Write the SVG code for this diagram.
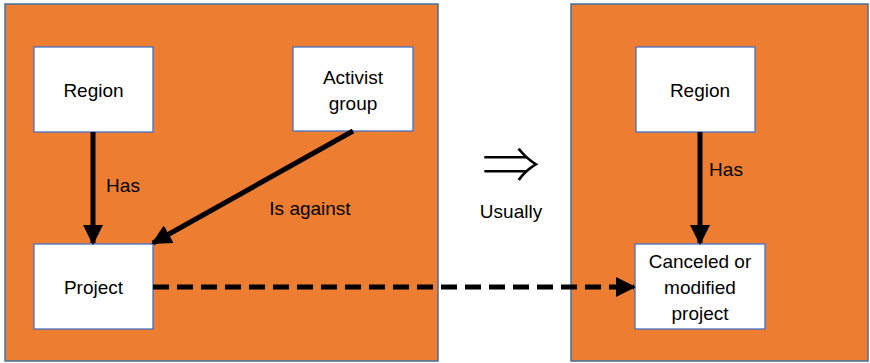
<svg xmlns="http://www.w3.org/2000/svg" width="870" height="363" viewBox="0 0 870 363">
<style>
.panel{fill:#ED7D31;stroke:#41719C;stroke-width:1.5}
.box{fill:#FFFFFF;stroke:#4472C4;stroke-width:1.3}
.t{font-family:"Liberation Sans",Arial,sans-serif;font-size:19px;fill:#000;text-anchor:middle}
.c{stroke:#000;stroke-width:5;fill:none}
</style>
<defs>
<marker id="ah" markerWidth="4" markerHeight="4" refX="3.6" refY="2" orient="auto" markerUnits="strokeWidth">
<path d="M0,0 L4,2 L0,4 z" fill="#000"/>
</marker>
</defs>
<g id="left-panel"><rect class="panel" x="5" y="4" width="433" height="357"/></g>
<g id="right-panel"><rect class="panel" x="571" y="4" width="297" height="357"/></g>
<g id="region-left"><rect class="box" x="34" y="47" width="119" height="85"/><text class="t" x="93.5" y="97">Region</text></g>
<g id="activist"><rect class="box" x="293" y="47" width="120" height="84"/><text class="t" x="353" y="84">Activist</text><text class="t" x="353" y="110">group</text></g>
<g id="project"><rect class="box" x="34" y="244" width="119" height="85"/><text class="t" x="93.5" y="294">Project</text></g>
<g id="region-right"><rect class="box" x="636" y="47" width="119" height="85"/><text class="t" x="700" y="97">Region</text></g>
<g id="canceled"><rect class="box" x="635" y="244" width="130" height="85"/><text class="t" x="700" y="268">Canceled or</text><text class="t" x="700" y="294">modified</text><text class="t" x="700" y="320">project</text></g>
<g id="connectors">
<line class="c" x1="93" y1="132" x2="93" y2="243" marker-end="url(#ah)"/>
<line class="c" x1="353" y1="131" x2="153" y2="243" marker-end="url(#ah)"/>
<line class="c" x1="153" y1="287" x2="634" y2="287" stroke-dasharray="16,8" marker-end="url(#ah)"/>
<line class="c" x1="700" y1="132" x2="700" y2="243" marker-end="url(#ah)"/>
</g>
<g id="labels">
<text class="t" x="123" y="192">Has</text>
<text class="t" x="310" y="215">Is against</text>
<text class="t" x="726" y="176">Has</text>
<text class="t" x="511" y="218">Usually</text>
<text class="t" x="511" y="183" textLength="58" lengthAdjust="spacingAndGlyphs" style="font-family:'Noto Sans CJK JP',sans-serif;font-size:50px;font-weight:300">⇒</text>
</g>
</svg>
